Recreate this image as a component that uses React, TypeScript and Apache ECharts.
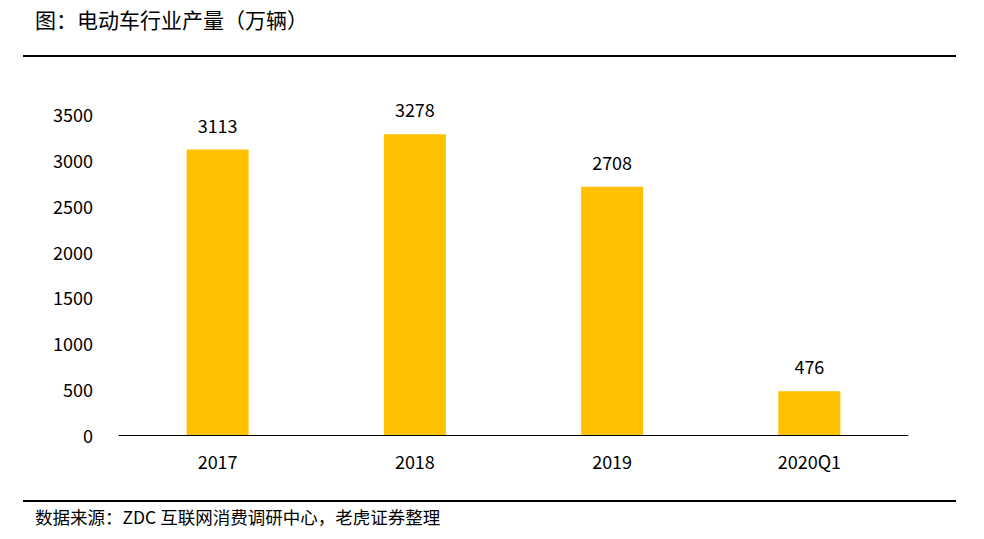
import React, { useEffect, useRef } from "react";
import * as echarts from "echarts";

const categories = ["2017", "2018", "2019", "2020Q1"];
const values = [3113, 3278, 2708, 476];
const yTicks = [0, 500, 1000, 1500, 2000, 2500, 3000, 3500];
const titleText = "图：电动车行业产量（万辆）";
const sourceText = "数据来源：ZDC 互联网消费调研中心，老虎证券整理";

const FONT = "'Noto Sans CJK SC', 'Noto Sans', sans-serif";

export default function App() {
  const ref = useRef<HTMLDivElement>(null);
  useEffect(() => {
    if (!ref.current) return;
    const chart = echarts.init(ref.current, null, { renderer: "svg" });
    chart.setOption({
      animation: false,
      backgroundColor: "#ffffff",
      textStyle: { fontFamily: FONT },
      grid: { left: 119, right: 76, top: 114, bottom: 104, containLabel: false },
      xAxis: {
        type: "category",
        data: categories,
        axisLine: { lineStyle: { color: "#000000", width: 1 } },
        axisTick: { show: false },
        axisLabel: { color: "#000000", fontSize: 18, margin: 17, fontFamily: FONT },
      },
      yAxis: {
        type: "value",
        min: yTicks[0],
        max: yTicks[yTicks.length - 1],
        interval: 500,
        splitLine: { show: false },
        axisLine: { show: false },
        axisTick: { show: false },
        axisLabel: {
          color: "#000000",
          fontSize: 18,
          margin: 26,
          fontFamily: FONT,
          formatter: (v: number) => String(v),
        },
      },
      series: [
        {
          type: "bar",
          data: values,
          barWidth: 62,
          itemStyle: { color: "#FFC000" },
          label: {
            show: true,
            position: "top",
            distance: 16,
            color: "#000000",
            fontSize: 18,
            fontFamily: FONT,
          },
        },
      ],
      graphic: [
        {
          type: "text",
          left: 35,
          top: 8,
          style: { text: titleText, fontSize: 21, fill: "#000000", fontFamily: FONT },
        },
        {
          type: "line",
          shape: { x1: 23, y1: 56, x2: 956, y2: 56 },
          style: { stroke: "#000000", lineWidth: 2 },
        },
        {
          type: "line",
          shape: { x1: 23, y1: 501, x2: 956, y2: 501 },
          style: { stroke: "#000000", lineWidth: 2 },
        },
        {
          type: "text",
          left: 35,
          top: 508,
          style: { text: sourceText, fontSize: 17.5, fill: "#000000", fontFamily: FONT },
        },
      ],
    });
    return () => chart.dispose();
  }, []);
  return (
    <div
      ref={ref}
      style={{ position: "fixed", left: 0, top: 0, width: 984, height: 539 }}
    />
  );
}
